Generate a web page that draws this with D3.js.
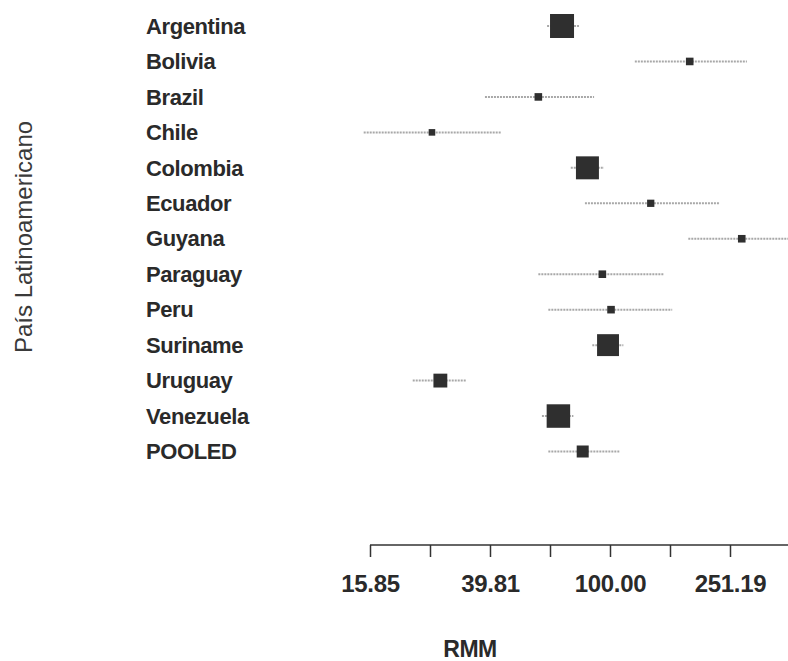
<!DOCTYPE html>
<html>
<head>
<meta charset="utf-8">
<script src="https://cdn.jsdelivr.net/npm/d3@7"></script>
<style>
  html, body { margin: 0; padding: 0; background: #ffffff; }
  svg { display: block; }
</style>
</head>
<body>
<svg id="chart" width="788" height="661"></svg>
<script>
// ---- data ----
const countries = ["Argentina","Bolivia","Brazil","Chile","Colombia","Ecuador","Guyana","Paraguay","Peru","Suriname","Uruguay","Venezuela","POOLED"];
const estimates = [69.2, 184.4, 57.7, 25.5, 84.1, 136.7, 274.9, 94.3, 100.8, 98.5, 27.2, 67.3, 81.1];
const lowerCI   = [61.7, 121.0, 38.3, 15.1, 74.0, 82.5, 182.4, 57.7, 62.3, 87.3, 22.0, 59.3, 62.3];
const upperCI   = [78.8, 286.0, 88.5, 43.3, 95.5, 232.6, 413.0, 151.4, 161.2, 110.8, 33.3, 75.5, 107.4];
const weights   = [24, 2.4, 2.4, 1.8, 22, 2.2, 2.4, 2.4, 2.4, 20, 8, 23, 6];
const tickValues = [15.85, 25.12, 39.81, 63.10, 100.00, 158.49, 251.19, 398.11];
const tickLabels = ["15.85", "", "39.81", "", "100.00", "", "251.19", ""];

// ---- scales ----
const svg = d3.select("#chart");
const x = d3.scaleLog().domain([15.85, 398.11]).range([370, 790]);
const y = d3.scalePoint().domain(countries).range([26, 451.5]);
const side = d3.scaleSqrt().domain([0, 24]).range([0, 24]);

const rows = countries.map((c, i) => ({ c, est: estimates[i], lo: lowerCI[i], hi: upperCI[i], w: weights[i] }));

// ---- CI lines ----
svg.append("g").selectAll("line").data(rows).join("line")
  .attr("x1", d => x(d.lo)).attr("x2", d => x(d.hi))
  .attr("y1", d => y(d.c)).attr("y2", d => y(d.c))
  .attr("stroke", "#a8a8a8").attr("stroke-width", 2)
  .attr("stroke-dasharray", "2,1");

// ---- boxes ----
svg.append("g").selectAll("rect").data(rows).join("rect")
  .attr("x", d => x(d.est) - side(d.w) / 2)
  .attr("y", d => y(d.c) - side(d.w) / 2)
  .attr("width", d => side(d.w)).attr("height", d => side(d.w))
  .attr("fill", "#2f2f2f");

// ---- country labels ----
svg.append("g").selectAll("text").data(rows).join("text")
  .attr("x", 146).attr("y", d => y(d.c)).attr("dy", "0.35em")
  .attr("font-family", "Liberation Sans, Arial, sans-serif")
  .attr("font-weight", "bold").attr("font-size", 22)
  .attr("letter-spacing", -0.4)
  .attr("fill", "#2a2a2a")
  .text(d => d.c);

// ---- x axis ----
const axis = d3.axisBottom(x).tickValues(tickValues).tickSize(12).tickFormat((d, i) => tickLabels[i]);
const gx = svg.append("g").attr("transform", "translate(0,545)").call(axis);
gx.select(".domain").attr("stroke", "#333").attr("stroke-width", 1.5).attr("d", "M370,0H790");
gx.selectAll(".tick line").attr("stroke", "#333").attr("stroke-width", 1.5);
gx.selectAll(".tick text")
  .attr("y", 30).attr("dy", "0.71em")
  .attr("font-family", "Liberation Sans, Arial, sans-serif")
  .attr("font-weight", "bold").attr("font-size", 24)
  .attr("letter-spacing", -0.3)
  .attr("fill", "#2a2a2a");

// ---- axis titles ----
svg.append("text")
  .attr("x", 470).attr("y", 657).attr("text-anchor", "middle")
  .attr("font-family", "Liberation Sans, Arial, sans-serif")
  .attr("font-weight", "bold").attr("font-size", 23)
  .attr("letter-spacing", -0.5)
  .attr("fill", "#2a2a2a").text("RMM");

svg.append("text")
  .attr("transform", "translate(32,237) rotate(-90)")
  .attr("text-anchor", "middle")
  .attr("font-family", "Liberation Sans, Arial, sans-serif")
  .attr("font-size", 24)
  .attr("fill", "#3a3a3a").text("País Latinoamericano");
</script>
</body>
</html>
